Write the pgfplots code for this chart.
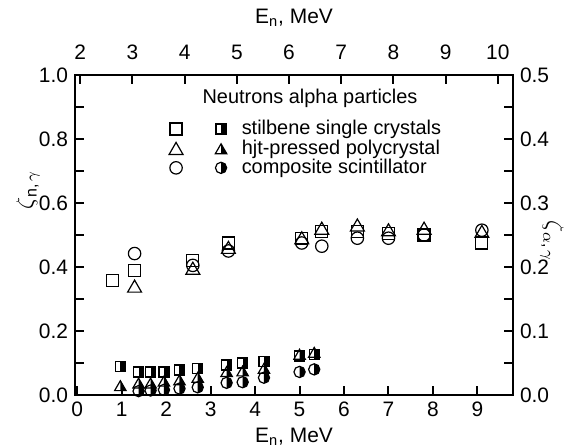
\documentclass[border=0pt]{standalone}
\usepackage{fontspec}
\setmainfont{Liberation Sans}
\usepackage{pgfplots}
\pgfplotsset{compat=1.18}
\usetikzlibrary{calc}

% half-filled marks (right half black)
\pgfdeclareplotmark{hsquare}{%
  \pgfpathrectangle{\pgfqpoint{0pt}{-\pgfplotmarksize}}{\pgfqpoint{\pgfplotmarksize}{2\pgfplotmarksize}}%
  \pgfusepathqfill
  \pgfpathrectangle{\pgfqpoint{-\pgfplotmarksize}{-\pgfplotmarksize}}{\pgfqpoint{2\pgfplotmarksize}{2\pgfplotmarksize}}%
  \pgfusepathqstroke
}
\pgfdeclareplotmark{htriangle}{%
  \pgfpathmoveto{\pgfqpoint{0pt}{\pgfplotmarksize}}%
  \pgfpathlineto{\pgfqpoint{0pt}{-.5\pgfplotmarksize}}%
  \pgfpathlineto{\pgfqpointpolar{-30}{\pgfplotmarksize}}%
  \pgfpathclose\pgfusepathqfill
  \pgfpathmoveto{\pgfqpointpolar{90}{\pgfplotmarksize}}%
  \pgfpathlineto{\pgfqpointpolar{210}{\pgfplotmarksize}}%
  \pgfpathlineto{\pgfqpointpolar{-30}{\pgfplotmarksize}}%
  \pgfpathclose\pgfusepathqstroke
}
\pgfdeclareplotmark{hcircle}{%
  \pgfpathmoveto{\pgfqpoint{0pt}{\pgfplotmarksize}}%
  \pgfpatharc{90}{-90}{\pgfplotmarksize}%
  \pgfpathclose\pgfusepathqfill
  \pgfpathcircle{\pgfpointorigin}{\pgfplotmarksize}\pgfusepathqstroke
}

\tikzset{
  nsq/.style={only marks, black, mark=square, mark size=3bp, mark options={line width=0.6bp}},
  ntr/.style={only marks, black, mark=triangle, mark size=4bp, mark options={line width=0.6bp}},
  nci/.style={only marks, black, mark=o, mark size=3.1bp, mark options={line width=0.6bp}},
  asq/.style={only marks, black, fill=black, mark=hsquare, mark size=2.5bp, mark options={line width=0.6bp}},
  atr/.style={only marks, black, fill=black, mark=htriangle, mark size=3.3bp, mark options={line width=0.6bp}},
  aci/.style={only marks, black, fill=black, mark=hcircle, mark size=2.8bp, mark options={line width=0.6bp}},
}
\pgfplotsset{
  frame/.style={scale only axis, width=219bp, height=160bp,
    tick align=inside, major tick length=4.5bp, minor tick length=4.5bp,
    axis line style={line width=1bp}, every tick/.style={black, line width=1bp},
    ticklabel style={font=\fontsize{10.5}{12}\selectfont},
    /pgf/number format/assume math mode=true},
}

\begin{document}
\begin{tikzpicture}
\begin{axis}[frame, name=main,
  xmin=-0.05, xmax=9.8, ymin=0, ymax=1,
  xtick={0,1,2,3,4,5,6,7,8,9}, xtick pos=bottom,
  ytick={0,0.2,0.4,0.6,0.8,1.0}, minor ytick={0.1,0.3,0.5,0.7,0.9}, ytick pos=left,
  yticklabel style={/pgf/number format/.cd, fixed, fixed zerofill, precision=1},
  legend style={draw=none, fill=none, at={(0.214,0.866)}, anchor=north west,
    font=\fontsize{10}{11}\selectfont, inner sep=0pt, row sep=-1bp,
    nodes={inner sep=1bp},
    /tikz/every odd column/.append style={column sep=6.5bp}},
  legend cell align=left]
\addlegendimage{legend image code/.code={
  \draw[nsq] plot coordinates {(0bp,0bp)};
  \draw[asq] plot coordinates {(22.5bp,0bp)};}}
\addlegendimage{legend image code/.code={
  \draw[ntr] plot coordinates {(0bp,-1bp)};
  \draw[atr] plot coordinates {(22.5bp,-1bp)};}}
\addlegendimage{legend image code/.code={
  \draw[nci] plot coordinates {(0bp,0bp)};
  \draw[aci] plot coordinates {(22.5bp,0bp)};}}
\legend{stilbene single crystals, hjt-pressed polycrystal, composite scintillator}
% neutrons
\addplot[nsq] coordinates {(0.8,0.358)(1.29,0.39)(2.6,0.42)(3.4,0.475)(5.05,0.49)(5.5,0.51)(6.3,0.51)(7.0,0.505)(7.8,0.5)(9.1,0.475)};
\addplot[ntr] coordinates {(1.29,0.334)(2.6,0.39)(3.4,0.455)(5.05,0.485)(5.5,0.515)(6.3,0.525)(7.0,0.51)(7.8,0.515)(9.1,0.505)};
\addplot[nci] coordinates {(1.29,0.442)(2.6,0.405)(3.4,0.45)(5.05,0.475)(5.5,0.465)(6.3,0.49)(7.0,0.49)(7.8,0.5)(9.1,0.515)};
\end{axis}

\begin{axis}[frame, at={(main.south west)}, anchor=south west,
  xmin=-0.05, xmax=9.8, ymin=0, ymax=0.5,
  hide x axis, axis y line*=right,
  ytick={0,0.1,0.2,0.3,0.4,0.5}, minor ytick={0.05,0.15,0.25,0.35,0.45},
  yticklabel style={/pgf/number format/.cd, fixed, fixed zerofill, precision=1}]
% alpha particles
\addplot[asq] coordinates {(0.97,0.045)(1.38,0.036)(1.65,0.036)(1.95,0.036)(2.3,0.039)(2.71,0.042)(3.36,0.047)(3.72,0.05)(4.2,0.052)(5.0,0.061)(5.33,0.063)};
\addplot[atr] coordinates {(0.97,0.012)(1.38,0.016)(1.65,0.016)(1.95,0.019)(2.3,0.021)(2.71,0.025)(3.36,0.034)(3.72,0.035)(4.2,0.039)(5.0,0.061)(5.33,0.064)};
\addplot[aci] coordinates {(1.38,0.006)(1.65,0.007)(1.95,0.008)(2.3,0.01)(2.71,0.012)(3.36,0.019)(3.72,0.02)(4.2,0.027)(5.0,0.036)(5.33,0.04)};
\end{axis}

\begin{axis}[frame, at={(main.south west)}, anchor=south west,
  xmin=1.9, xmax=10.29, ymin=0, ymax=1,
  hide y axis, axis x line*=top,
  xtick={2,3,4,5,6,7,8,9,10},
  xticklabel style={yshift=4bp}]
\end{axis}

\node[font=\fontsize{10.5}{12}\selectfont] at ($(main.south)+(0,-21bp)$) {E\textsubscript{n}, MeV};
\node[font=\fontsize{10.5}{12}\selectfont] at ($(main.north)+(0,28.5bp)$) {E\textsubscript{n}, MeV};
\node[font=\fontsize{12}{14}\selectfont, rotate=90] at ($(main.south west)+(-23.5bp,102.5bp)$) {$\zeta$\textsubscript{n,\,$\gamma$}};
\node[font=\fontsize{12}{14}\selectfont, rotate=-90] at ($(main.south east)+(19.5bp,77bp)$) {$\zeta$\textsubscript{$\alpha$,\,$\gamma$}};
\node[font=\fontsize{10}{11}\selectfont] at ($(main.north west)+(117.5bp,-11.5bp)$) {Neutrons alpha particles};

\pgfresetboundingbox
\path ($(main.south west)+(-37.5bp,-26.5bp)$) rectangle ($(main.north east)+(33bp,37.5bp)$);
\end{tikzpicture}
\end{document}
